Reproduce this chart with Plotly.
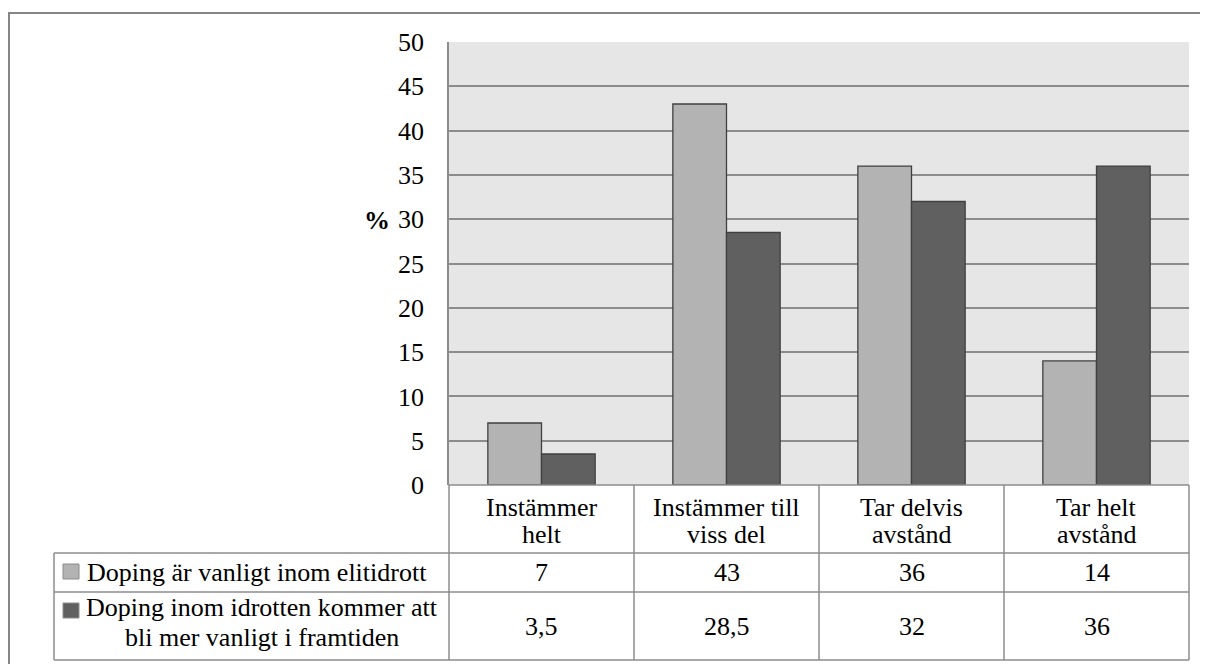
import plotly.graph_objects as go

categories = ["Instämmer<br>helt", "Instämmer till<br>viss del", "Tar delvis<br>avstånd", "Tar helt<br>avstånd"]
series_names = ["Doping är vanligt inom elitidrott",
                "Doping inom idrotten kommer att<br>bli mer vanligt i framtiden"]
series_a = [7, 43, 36, 14]
series_b = [3.5, 28.5, 32, 36]
colors = ["#b3b3b3", "#606060"]
y_ticks = [0, 5, 10, 15, 20, 25, 30, 35, 40, 45, 50]

OFF = 8  # default page body margin
W, H = 1208 - OFF, 664 - OFF
L, R, T, B = 449 - OFF, 1189 - OFF, 42 - OFF, 485 - OFF
FONT = "Liberation Serif, Times New Roman, Tinos, DejaVu Serif, serif"
FS = 26
GRID = "#8c8c8c"

def px(x):
    return (x - OFF - L) / (R - L)

def py(y):
    return (B - (y - OFF)) / (B - T)

def fmt(v):
    return ("%g" % v).replace(".", ",")

fig = go.Figure()
for name, vals, col in zip(series_names, [series_a, series_b], colors):
    fig.add_trace(go.Bar(x=list(range(len(categories))), y=vals, name=name,
                         marker=dict(color=col, line=dict(color="#404040", width=1.3))))

shapes = []
annotations = []
shapes.append(dict(type="rect", xref="paper", yref="paper", x0=px(9), x1=px(1220), y0=py(13), y1=py(680),
                   line=dict(color="#868686", width=2), layer="below"))
for yy in [485, 553, 592, 660]:
    x0 = 449 if yy == 485 else 54
    shapes.append(dict(type="line", xref="paper", yref="paper", x0=px(x0), x1=px(1189), y0=py(yy), y1=py(yy),
                       line=dict(color=GRID, width=1.5)))
for xx in [449, 634, 819, 1004, 1189]:
    shapes.append(dict(type="line", xref="paper", yref="paper", x0=px(xx), x1=px(xx), y0=py(485), y1=py(660),
                       line=dict(color=GRID, width=1.5)))
shapes.append(dict(type="line", xref="paper", yref="paper", x0=px(54), x1=px(54), y0=py(553), y1=py(660),
                   line=dict(color=GRID, width=1.5)))

def add_text(x, y, text, xref="paper"):
    annotations.append(dict(x=x, y=py(y), xref=xref, yref="paper", text=text, showarrow=False,
                            xanchor="center", yanchor="middle",
                            font=dict(family=FONT, size=FS, color="black")))

LINE = 26
for i, c in enumerate(categories):
    for k, ln in enumerate(c.split("<br>")):
        add_text(i, 508 + k * LINE, ln, xref="x")

row_centers = [572, 626]
for r, vals in enumerate([series_a, series_b]):
    for i, v in enumerate(vals):
        add_text(i, row_centers[r], fmt(v), xref="x")

key_top = [564, 603]
legend_first_line = [572, 607]
legend_center_x = [257, 262]
LEG_LINE = 30
for r, (name, col) in enumerate(zip(series_names, colors)):
    shapes.append(dict(type="rect", xref="paper", yref="paper", x0=px(63), x1=px(79),
                       y0=py(key_top[r]), y1=py(key_top[r] + 15),
                       fillcolor=col, line=dict(color="#8c8c8c", width=1)))
    for k, ln in enumerate(name.split("<br>")):
        add_text(px(legend_center_x[r]), legend_first_line[r] + k * LEG_LINE, ln)

annotations.append(dict(x=px(377), y=py(220), xref="paper", yref="paper", text="<b>%</b>", showarrow=False,
                        xanchor="center", yanchor="middle", font=dict(family=FONT, size=FS, color="black")))

fig.update_layout(
    width=W, height=H,
    margin=dict(l=L, r=W - R, t=T, b=H - B, pad=0),
    paper_bgcolor="white", plot_bgcolor="#e6e6e6",
    font=dict(family=FONT, size=FS, color="black"),
    barmode="group", bargap=0.42, bargroupgap=0,
    showlegend=False,
    shapes=shapes, annotations=annotations,
    xaxis=dict(range=[-0.5, 3.5], showticklabels=False, showgrid=False, zeroline=False,
               showline=False, fixedrange=True),
    yaxis=dict(range=[0, 50], tickvals=y_ticks, showgrid=True, gridcolor=GRID, gridwidth=1.5,
               zeroline=False, showline=True, linecolor=GRID, linewidth=1.5,
               ticks="", ticklabelstandoff=18,
               tickfont=dict(family=FONT, size=FS, color="black")),
)
fig.write_html("out.html")
